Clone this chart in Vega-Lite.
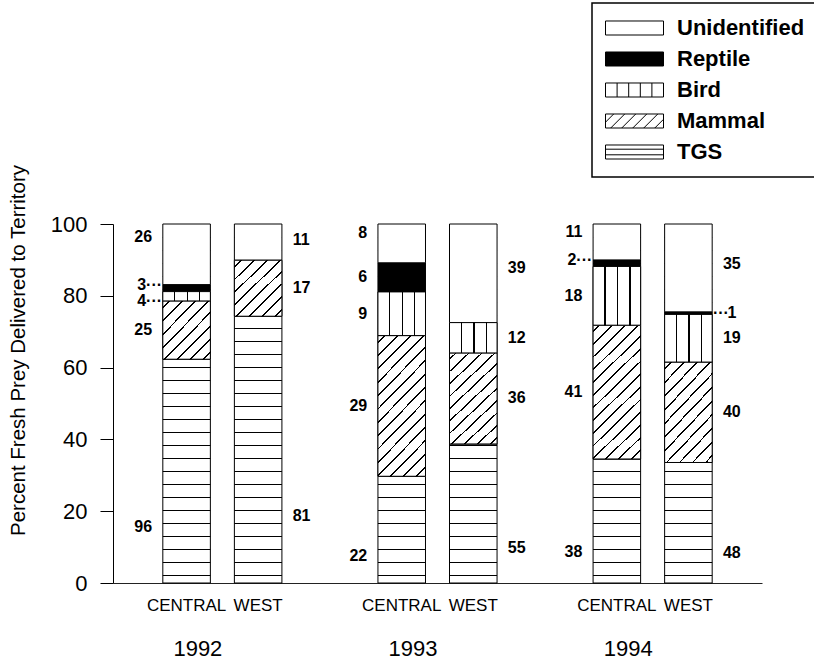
{
"$schema":"https://vega.github.io/schema/vega-lite/v6.json",
"width":649,"height":359,
"autosize":{"type":"none"},
"padding":{"left":113,"top":224,"right":52,"bottom":83},
"config":{"font":"Liberation Sans","view":{"stroke":null}},
"data":{"values":[
{"year":"1992","region":"CENTRAL","category":"TGS","n":96},
{"year":"1992","region":"CENTRAL","category":"Mammal","n":25},
{"year":"1992","region":"CENTRAL","category":"Bird","n":4},
{"year":"1992","region":"CENTRAL","category":"Reptile","n":3},
{"year":"1992","region":"CENTRAL","category":"Unidentified","n":26},
{"year":"1992","region":"WEST","category":"TGS","n":81},
{"year":"1992","region":"WEST","category":"Mammal","n":17},
{"year":"1992","region":"WEST","category":"Unidentified","n":11},
{"year":"1993","region":"CENTRAL","category":"TGS","n":22},
{"year":"1993","region":"CENTRAL","category":"Mammal","n":29},
{"year":"1993","region":"CENTRAL","category":"Bird","n":9},
{"year":"1993","region":"CENTRAL","category":"Reptile","n":6},
{"year":"1993","region":"CENTRAL","category":"Unidentified","n":8},
{"year":"1993","region":"WEST","category":"TGS","n":55},
{"year":"1993","region":"WEST","category":"Mammal","n":36},
{"year":"1993","region":"WEST","category":"Bird","n":12},
{"year":"1993","region":"WEST","category":"Unidentified","n":39},
{"year":"1994","region":"CENTRAL","category":"TGS","n":38},
{"year":"1994","region":"CENTRAL","category":"Mammal","n":41},
{"year":"1994","region":"CENTRAL","category":"Bird","n":18},
{"year":"1994","region":"CENTRAL","category":"Reptile","n":2},
{"year":"1994","region":"CENTRAL","category":"Unidentified","n":11},
{"year":"1994","region":"WEST","category":"TGS","n":48},
{"year":"1994","region":"WEST","category":"Mammal","n":40},
{"year":"1994","region":"WEST","category":"Bird","n":19},
{"year":"1994","region":"WEST","category":"Reptile","n":1},
{"year":"1994","region":"WEST","category":"Unidentified","n":35}
]},
"transform":[{"stack":"n","groupby":["year","region"],"offset":"normalize","as":["y0","y1"]}],
"layer":[
{"transform":[{"filter":"datum.category === 'TGS'"}],
 "mark":{"type":"bar","strokeWidth":0,"fill":{"gradient":"linear","x1":0,"y1":0,"x2":0,"y2":1,"stops":[
{"offset":0,"color":"#fff"},
{"offset":0.03621,"color":"#fff"},{"offset":0.03621,"color":"#000"},{"offset":0.03900,"color":"#000"},{"offset":0.03900,"color":"#fff"},
{"offset":0.07242,"color":"#fff"},{"offset":0.07242,"color":"#000"},{"offset":0.07521,"color":"#000"},{"offset":0.07521,"color":"#fff"},
{"offset":0.10864,"color":"#fff"},{"offset":0.10864,"color":"#000"},{"offset":0.11142,"color":"#000"},{"offset":0.11142,"color":"#fff"},
{"offset":0.14485,"color":"#fff"},{"offset":0.14485,"color":"#000"},{"offset":0.14763,"color":"#000"},{"offset":0.14763,"color":"#fff"},
{"offset":0.18106,"color":"#fff"},{"offset":0.18106,"color":"#000"},{"offset":0.18384,"color":"#000"},{"offset":0.18384,"color":"#fff"},
{"offset":0.21727,"color":"#fff"},{"offset":0.21727,"color":"#000"},{"offset":0.22006,"color":"#000"},{"offset":0.22006,"color":"#fff"},
{"offset":0.25348,"color":"#fff"},{"offset":0.25348,"color":"#000"},{"offset":0.25627,"color":"#000"},{"offset":0.25627,"color":"#fff"},
{"offset":0.28969,"color":"#fff"},{"offset":0.28969,"color":"#000"},{"offset":0.29248,"color":"#000"},{"offset":0.29248,"color":"#fff"},
{"offset":0.32591,"color":"#fff"},{"offset":0.32591,"color":"#000"},{"offset":0.32869,"color":"#000"},{"offset":0.32869,"color":"#fff"},
{"offset":0.36212,"color":"#fff"},{"offset":0.36212,"color":"#000"},{"offset":0.36490,"color":"#000"},{"offset":0.36490,"color":"#fff"},
{"offset":0.39833,"color":"#fff"},{"offset":0.39833,"color":"#000"},{"offset":0.40111,"color":"#000"},{"offset":0.40111,"color":"#fff"},
{"offset":0.43454,"color":"#fff"},{"offset":0.43454,"color":"#000"},{"offset":0.43733,"color":"#000"},{"offset":0.43733,"color":"#fff"},
{"offset":0.47075,"color":"#fff"},{"offset":0.47075,"color":"#000"},{"offset":0.47354,"color":"#000"},{"offset":0.47354,"color":"#fff"},
{"offset":0.50696,"color":"#fff"},{"offset":0.50696,"color":"#000"},{"offset":0.50975,"color":"#000"},{"offset":0.50975,"color":"#fff"},
{"offset":0.54318,"color":"#fff"},{"offset":0.54318,"color":"#000"},{"offset":0.54596,"color":"#000"},{"offset":0.54596,"color":"#fff"},
{"offset":0.57939,"color":"#fff"},{"offset":0.57939,"color":"#000"},{"offset":0.58217,"color":"#000"},{"offset":0.58217,"color":"#fff"},
{"offset":0.61560,"color":"#fff"},{"offset":0.61560,"color":"#000"},{"offset":0.61838,"color":"#000"},{"offset":0.61838,"color":"#fff"},
{"offset":0.65181,"color":"#fff"},{"offset":0.65181,"color":"#000"},{"offset":0.65460,"color":"#000"},{"offset":0.65460,"color":"#fff"},
{"offset":0.68802,"color":"#fff"},{"offset":0.68802,"color":"#000"},{"offset":0.69081,"color":"#000"},{"offset":0.69081,"color":"#fff"},
{"offset":0.72423,"color":"#fff"},{"offset":0.72423,"color":"#000"},{"offset":0.72702,"color":"#000"},{"offset":0.72702,"color":"#fff"},
{"offset":0.76045,"color":"#fff"},{"offset":0.76045,"color":"#000"},{"offset":0.76323,"color":"#000"},{"offset":0.76323,"color":"#fff"},
{"offset":0.79666,"color":"#fff"},{"offset":0.79666,"color":"#000"},{"offset":0.79944,"color":"#000"},{"offset":0.79944,"color":"#fff"},
{"offset":0.83287,"color":"#fff"},{"offset":0.83287,"color":"#000"},{"offset":0.83565,"color":"#000"},{"offset":0.83565,"color":"#fff"},
{"offset":0.86908,"color":"#fff"},{"offset":0.86908,"color":"#000"},{"offset":0.87187,"color":"#000"},{"offset":0.87187,"color":"#fff"},
{"offset":0.90529,"color":"#fff"},{"offset":0.90529,"color":"#000"},{"offset":0.90808,"color":"#000"},{"offset":0.90808,"color":"#fff"},
{"offset":0.94150,"color":"#fff"},{"offset":0.94150,"color":"#000"},{"offset":0.94429,"color":"#000"},{"offset":0.94429,"color":"#fff"},
{"offset":0.97772,"color":"#fff"},{"offset":0.97772,"color":"#000"},{"offset":0.98050,"color":"#000"},{"offset":0.98050,"color":"#fff"},
{"offset":1,"color":"#fff"}]}},
 "encoding":{
  "x":{"field":"year","type":"nominal","title":null},
  "xOffset":{"field":"region","type":"nominal"},
  "y":{"datum":0,"type":"quantitative","title":"Percent Fresh Prey Delivered to Territory"},
  "y2":{"datum":1}}},
{"mark":{"type":"bar","stroke":"black","strokeWidth":1},
 "encoding":{
  "x":{"field":"year","type":"nominal","title":null,
   "scale":{"paddingInner":0,"paddingOuter":0.0084},
   "axis":{"labelFontSize":22,"labelPadding":65,"ticks":false,"tickSize":0,"domain":true,"domainColor":"#222","domainWidth":1,"labelAngle":0,"labelColor":"black"}},
  "xOffset":{"field":"region","type":"nominal","scale":{"paddingInner":0.3357,"paddingOuter":0.671}},
  "y":{"field":"y0","type":"quantitative","title":"Percent Fresh Prey Delivered to Territory",
   "scale":{"domain":[0,1],"nice":false},
   "axis":{"values":[0,0.2,0.4,0.6,0.8,1],"labelExpr":"format(datum.value*100,'.0f')","tickSize":13,"tickColor":"black","domainColor":"black","labelFontSize":22,"labelPadding":13,"labelColor":"black","grid":false,"titleFontSize":20.5,"titleFontWeight":"normal","titleColor":"black","titleX":-89,"titleY":126,"titleAngle":-90,"titleBaseline":"alphabetic"}},
  "y2":{"field":"y1"},
  "fill":{"field":"category","type":"nominal",
   "scale":{"domain":["Unidentified","Reptile","Bird","Mammal","TGS"],
    "range":["#ffffff","#000000","#ffffff","#ffffff","transparent"]},
   "legend":{"title":null,"orient":"none","legendX":479,"legendY":-221,"direction":"vertical","padding":13,
    "strokeColor":"black","fillColor":"white",
    "symbolType":"M-1,-0.2414H1V0.2414H-1Z","symbolSize":3364,"symbolStrokeColor":"black","symbolStrokeWidth":1,"symbolOpacity":1,
    "labelFontSize":22,"labelFontWeight":"bold","labelColor":"black","labelOffset":13,"labelLimit":400,
    "labelExpr":"datum.label + '      '",
    "clipHeight":24,"rowPadding":7,
    "encode":{"legend":{"update":{"strokeWidth":{"value":1.5}}},
     "symbols":{"update":{"stroke":{"value":"black"},"strokeWidth":{"value":1},
      "fill":[{"test":"datum.value === 'Reptile'","value":"#000"},{"value":"#fff"}],
      "shape":[
       {"test":"datum.value === 'Bird'","value":"M-1,-0.2414H1V0.2414H-1Z M-0.6,-0.2414V0.2414 M-0.2,-0.2414V0.2414 M0.2,-0.2414V0.2414 M0.6,-0.2414V0.2414"},
       {"test":"datum.value === 'Mammal'","value":"M-1,-0.2414H1V0.2414H-1Z M-1,0.0414L-0.7172,-0.2414 M-0.82,0.2414L-0.3372,-0.2414 M-0.44,0.2414L0.0428,-0.2414 M-0.06,0.2414L0.4228,-0.2414 M0.32,0.2414L0.8028,-0.2414 M0.7,0.2414L1,-0.0586"},
       {"test":"datum.value === 'TGS'","value":"M-1,-0.2414H1V0.2414H-1Z M-1,-0.0966H1 M-1,0.0966H1"},
       {"value":"M-1,-0.2414H1V0.2414H-1Z"}]}}}}}}},
{"transform":[{"filter":"datum.category === 'Mammal' && datum.year === '1992'"}],
 "mark":{"type":"bar","stroke":"black","strokeWidth":1,"fill":{"gradient":"linear","x1":0,"y1":0,"x2":0.9016,"y2":1.0820,"stops":[
{"offset":0,"color":"#fff"},
{"offset":0.0554,"color":"#fff"},{"offset":0.0554,"color":"#000"},{"offset":0.0734,"color":"#000"},{"offset":0.0734,"color":"#fff"},
{"offset":0.1798,"color":"#fff"},{"offset":0.1798,"color":"#000"},{"offset":0.1978,"color":"#000"},{"offset":0.1978,"color":"#fff"},
{"offset":0.3042,"color":"#fff"},{"offset":0.3042,"color":"#000"},{"offset":0.3222,"color":"#000"},{"offset":0.3222,"color":"#fff"},
{"offset":0.4286,"color":"#fff"},{"offset":0.4286,"color":"#000"},{"offset":0.4466,"color":"#000"},{"offset":0.4466,"color":"#fff"},
{"offset":0.5530,"color":"#fff"},{"offset":0.5530,"color":"#000"},{"offset":0.5710,"color":"#000"},{"offset":0.5710,"color":"#fff"},
{"offset":0.6774,"color":"#fff"},{"offset":0.6774,"color":"#000"},{"offset":0.6954,"color":"#000"},{"offset":0.6954,"color":"#fff"},
{"offset":0.8018,"color":"#fff"},{"offset":0.8018,"color":"#000"},{"offset":0.8198,"color":"#000"},{"offset":0.8198,"color":"#fff"},
{"offset":0.9262,"color":"#fff"},{"offset":0.9262,"color":"#000"},{"offset":0.9442,"color":"#000"},{"offset":0.9442,"color":"#fff"},
{"offset":1,"color":"#fff"}]}},
 "encoding":{"x":{"field":"year","type":"nominal","title":null},"xOffset":{"field":"region","type":"nominal"},
  "y":{"field":"y0","type":"quantitative","title":"Percent Fresh Prey Delivered to Territory"},"y2":{"field":"y1"}}},
{"transform":[{"filter":"datum.category === 'Mammal' && datum.region === 'CENTRAL' && datum.year !== '1992'"}],
 "mark":{"type":"bar","stroke":"black","strokeWidth":1,"fill":{"gradient":"linear","x1":0,"y1":0,"x2":0.4168,"y2":1.2022,"stops":[
{"offset":0,"color":"#fff"},
{"offset":0.0305,"color":"#fff"},{"offset":0.0305,"color":"#000"},{"offset":0.0405,"color":"#000"},{"offset":0.0405,"color":"#fff"},
{"offset":0.1009,"color":"#fff"},{"offset":0.1009,"color":"#000"},{"offset":0.1109,"color":"#000"},{"offset":0.1109,"color":"#fff"},
{"offset":0.1714,"color":"#fff"},{"offset":0.1714,"color":"#000"},{"offset":0.1814,"color":"#000"},{"offset":0.1814,"color":"#fff"},
{"offset":0.2418,"color":"#fff"},{"offset":0.2418,"color":"#000"},{"offset":0.2518,"color":"#000"},{"offset":0.2518,"color":"#fff"},
{"offset":0.3123,"color":"#fff"},{"offset":0.3123,"color":"#000"},{"offset":0.3223,"color":"#000"},{"offset":0.3223,"color":"#fff"},
{"offset":0.3828,"color":"#fff"},{"offset":0.3828,"color":"#000"},{"offset":0.3928,"color":"#000"},{"offset":0.3928,"color":"#fff"},
{"offset":0.4532,"color":"#fff"},{"offset":0.4532,"color":"#000"},{"offset":0.4632,"color":"#000"},{"offset":0.4632,"color":"#fff"},
{"offset":0.5237,"color":"#fff"},{"offset":0.5237,"color":"#000"},{"offset":0.5337,"color":"#000"},{"offset":0.5337,"color":"#fff"},
{"offset":0.5941,"color":"#fff"},{"offset":0.5941,"color":"#000"},{"offset":0.6041,"color":"#000"},{"offset":0.6041,"color":"#fff"},
{"offset":0.6646,"color":"#fff"},{"offset":0.6646,"color":"#000"},{"offset":0.6746,"color":"#000"},{"offset":0.6746,"color":"#fff"},
{"offset":0.7351,"color":"#fff"},{"offset":0.7351,"color":"#000"},{"offset":0.7451,"color":"#000"},{"offset":0.7451,"color":"#fff"},
{"offset":0.8055,"color":"#fff"},{"offset":0.8055,"color":"#000"},{"offset":0.8155,"color":"#000"},{"offset":0.8155,"color":"#fff"},
{"offset":0.8760,"color":"#fff"},{"offset":0.8760,"color":"#000"},{"offset":0.8860,"color":"#000"},{"offset":0.8860,"color":"#fff"},
{"offset":0.9464,"color":"#fff"},{"offset":0.9464,"color":"#000"},{"offset":0.9564,"color":"#000"},{"offset":0.9564,"color":"#fff"},
{"offset":1,"color":"#fff"}]}},
 "encoding":{"x":{"field":"year","type":"nominal","title":null},"xOffset":{"field":"region","type":"nominal"},
  "y":{"field":"y0","type":"quantitative","title":"Percent Fresh Prey Delivered to Territory"},"y2":{"field":"y1"}}},
{"transform":[{"filter":"datum.category === 'Mammal' && datum.region === 'WEST' && datum.year !== '1992'"}],
 "mark":{"type":"bar","stroke":"black","strokeWidth":1,"fill":{"gradient":"linear","x1":0,"y1":0,"x2":0.5965,"y2":1.2005,"stops":[
{"offset":0,"color":"#fff"},
{"offset":0.0395,"color":"#fff"},{"offset":0.0395,"color":"#000"},{"offset":0.0523,"color":"#000"},{"offset":0.0523,"color":"#fff"},
{"offset":0.1303,"color":"#fff"},{"offset":0.1303,"color":"#000"},{"offset":0.1431,"color":"#000"},{"offset":0.1431,"color":"#fff"},
{"offset":0.2212,"color":"#fff"},{"offset":0.2212,"color":"#000"},{"offset":0.2340,"color":"#000"},{"offset":0.2340,"color":"#fff"},
{"offset":0.3120,"color":"#fff"},{"offset":0.3120,"color":"#000"},{"offset":0.3248,"color":"#000"},{"offset":0.3248,"color":"#fff"},
{"offset":0.4029,"color":"#fff"},{"offset":0.4029,"color":"#000"},{"offset":0.4157,"color":"#000"},{"offset":0.4157,"color":"#fff"},
{"offset":0.4937,"color":"#fff"},{"offset":0.4937,"color":"#000"},{"offset":0.5065,"color":"#000"},{"offset":0.5065,"color":"#fff"},
{"offset":0.5846,"color":"#fff"},{"offset":0.5846,"color":"#000"},{"offset":0.5974,"color":"#000"},{"offset":0.5974,"color":"#fff"},
{"offset":0.6754,"color":"#fff"},{"offset":0.6754,"color":"#000"},{"offset":0.6882,"color":"#000"},{"offset":0.6882,"color":"#fff"},
{"offset":0.7663,"color":"#fff"},{"offset":0.7663,"color":"#000"},{"offset":0.7791,"color":"#000"},{"offset":0.7791,"color":"#fff"},
{"offset":0.8571,"color":"#fff"},{"offset":0.8571,"color":"#000"},{"offset":0.8699,"color":"#000"},{"offset":0.8699,"color":"#fff"},
{"offset":0.9480,"color":"#fff"},{"offset":0.9480,"color":"#000"},{"offset":0.9608,"color":"#000"},{"offset":0.9608,"color":"#fff"},
{"offset":1,"color":"#fff"}]}},
 "encoding":{"x":{"field":"year","type":"nominal","title":null},"xOffset":{"field":"region","type":"nominal"},
  "y":{"field":"y0","type":"quantitative","title":"Percent Fresh Prey Delivered to Territory"},"y2":{"field":"y1"}}},
{"transform":[{"filter":"datum.category === 'Bird'"}],
 "mark":{"type":"bar","stroke":"black","strokeWidth":1,"fill":{"gradient":"linear","x1":0,"y1":0,"x2":1,"y2":0,"stops":[
{"offset":0,"color":"#fff"},
{"offset":0.237,"color":"#fff"},{"offset":0.237,"color":"#000"},{"offset":0.263,"color":"#000"},{"offset":0.263,"color":"#fff"},
{"offset":0.500,"color":"#fff"},{"offset":0.500,"color":"#000"},{"offset":0.526,"color":"#000"},{"offset":0.526,"color":"#fff"},
{"offset":0.763,"color":"#fff"},{"offset":0.763,"color":"#000"},{"offset":0.789,"color":"#000"},{"offset":0.789,"color":"#fff"},
{"offset":1,"color":"#fff"}]}},
 "encoding":{"x":{"field":"year","type":"nominal","title":null},"xOffset":{"field":"region","type":"nominal"},
  "y":{"field":"y0","type":"quantitative","title":"Percent Fresh Prey Delivered to Territory"},"y2":{"field":"y1"}}},
{"transform":[{"filter":"datum.region === 'CENTRAL'"}],
 "mark":{"type":"text","fontSize":16,"fontWeight":"bold","baseline":"middle","align":"right","dx":-34.5},
 "encoding":{"x":{"field":"year","type":"nominal","title":null},"xOffset":{"field":"region","type":"nominal"},
  "y":{"field":"n","type":"quantitative","stack":"normalize","bandPosition":0.5,"title":"Percent Fresh Prey Delivered to Territory"},
  "detail":{"field":"category"},"order":{"field":"y0","type":"quantitative"},
  "text":{"condition":{"test":"datum.category === 'Mammal' || (datum.category === 'Bird' && datum.year !== '1992') || (datum.category === 'Reptile' && datum.year === '1993')","field":"n","type":"quantitative"},"value":""}}},
{"transform":[{"filter":"datum.region === 'CENTRAL'"}],
 "mark":{"type":"text","fontSize":16,"fontWeight":"bold","baseline":"middle","align":"right","dx":-34.5},
 "encoding":{"x":{"field":"year","type":"nominal","title":null},"xOffset":{"field":"region","type":"nominal"},
  "y":{"field":"n","type":"quantitative","stack":"normalize","bandPosition":0.25,"title":"Percent Fresh Prey Delivered to Territory"},
  "detail":{"field":"category"},"order":{"field":"y0","type":"quantitative"},
  "text":{"condition":{"test":"datum.category === 'TGS'","field":"n","type":"quantitative"},"value":""}}},
{"transform":[{"filter":"datum.region === 'CENTRAL'"}],
 "mark":{"type":"text","fontSize":16,"fontWeight":"bold","baseline":"middle","align":"right","dx":-34.5},
 "encoding":{"x":{"field":"year","type":"nominal","title":null},"xOffset":{"field":"region","type":"nominal"},
  "y":{"field":"n","type":"quantitative","stack":"normalize","bandPosition":0.78,"title":"Percent Fresh Prey Delivered to Territory"},
  "detail":{"field":"category"},"order":{"field":"y0","type":"quantitative"},
  "text":{"condition":{"test":"datum.category === 'Unidentified'","field":"n","type":"quantitative"},"value":""}}},
{"transform":[{"filter":"datum.region === 'CENTRAL'"}],
 "mark":{"type":"text","fontSize":16,"fontWeight":"bold","baseline":"middle","align":"right","dx":-40.5},
 "encoding":{"x":{"field":"year","type":"nominal","title":null},"xOffset":{"field":"region","type":"nominal"},
  "y":{"field":"n","type":"quantitative","stack":"normalize","bandPosition":1,"title":"Percent Fresh Prey Delivered to Territory"},
  "detail":{"field":"category"},"order":{"field":"y0","type":"quantitative"},
  "text":{"condition":{"test":"datum.category === 'Reptile' && datum.year !== '1993'","field":"n","type":"quantitative"},"value":""}}},
{"transform":[{"filter":"datum.region === 'CENTRAL'"}],
 "mark":{"type":"text","fontSize":16,"fontWeight":"bold","baseline":"middle","align":"right","dx":-24.5},
 "encoding":{"x":{"field":"year","type":"nominal","title":null},"xOffset":{"field":"region","type":"nominal"},
  "y":{"field":"n","type":"quantitative","stack":"normalize","bandPosition":1,"title":"Percent Fresh Prey Delivered to Territory"},
  "detail":{"field":"category"},"order":{"field":"y0","type":"quantitative"},
  "text":{"condition":{"test":"datum.category === 'Reptile' && datum.year !== '1993'","value":"···"},"value":""}}},
{"transform":[{"filter":"datum.region === 'CENTRAL'"}],
 "mark":{"type":"text","fontSize":16,"fontWeight":"bold","baseline":"middle","align":"right","dx":-40.5},
 "encoding":{"x":{"field":"year","type":"nominal","title":null},"xOffset":{"field":"region","type":"nominal"},
  "y":{"field":"n","type":"quantitative","stack":"normalize","bandPosition":0,"title":"Percent Fresh Prey Delivered to Territory"},
  "detail":{"field":"category"},"order":{"field":"y0","type":"quantitative"},
  "text":{"condition":{"test":"datum.category === 'Bird' && datum.year === '1992'","field":"n","type":"quantitative"},"value":""}}},
{"transform":[{"filter":"datum.region === 'CENTRAL'"}],
 "mark":{"type":"text","fontSize":16,"fontWeight":"bold","baseline":"middle","align":"right","dx":-24.5},
 "encoding":{"x":{"field":"year","type":"nominal","title":null},"xOffset":{"field":"region","type":"nominal"},
  "y":{"field":"n","type":"quantitative","stack":"normalize","bandPosition":0,"title":"Percent Fresh Prey Delivered to Territory"},
  "detail":{"field":"category"},"order":{"field":"y0","type":"quantitative"},
  "text":{"condition":{"test":"datum.category === 'Bird' && datum.year === '1992'","value":"···"},"value":""}}},
{"transform":[{"filter":"datum.region === 'WEST'"}],
 "mark":{"type":"text","fontSize":16,"fontWeight":"bold","baseline":"middle","align":"left","dx":34.5},
 "encoding":{"x":{"field":"year","type":"nominal","title":null},"xOffset":{"field":"region","type":"nominal"},
  "y":{"field":"n","type":"quantitative","stack":"normalize","bandPosition":0.5,"title":"Percent Fresh Prey Delivered to Territory"},
  "detail":{"field":"category"},"order":{"field":"y0","type":"quantitative"},
  "text":{"condition":{"test":"datum.category === 'Mammal' || datum.category === 'Bird'","field":"n","type":"quantitative"},"value":""}}},
{"transform":[{"filter":"datum.region === 'WEST'"}],
 "mark":{"type":"text","fontSize":16,"fontWeight":"bold","baseline":"middle","align":"left","dx":34.5},
 "encoding":{"x":{"field":"year","type":"nominal","title":null},"xOffset":{"field":"region","type":"nominal"},
  "y":{"field":"n","type":"quantitative","stack":"normalize","bandPosition":0.25,"title":"Percent Fresh Prey Delivered to Territory"},
  "detail":{"field":"category"},"order":{"field":"y0","type":"quantitative"},
  "text":{"condition":{"test":"datum.category === 'TGS'","field":"n","type":"quantitative"},"value":""}}},
{"transform":[{"filter":"datum.region === 'WEST'"}],
 "mark":{"type":"text","fontSize":16,"fontWeight":"bold","baseline":"middle","align":"left","dx":34.5},
 "encoding":{"x":{"field":"year","type":"nominal","title":null},"xOffset":{"field":"region","type":"nominal"},
  "y":{"field":"n","type":"quantitative","stack":"normalize","bandPosition":0.55,"title":"Percent Fresh Prey Delivered to Territory"},
  "detail":{"field":"category"},"order":{"field":"y0","type":"quantitative"},
  "text":{"condition":{"test":"datum.category === 'Unidentified'","field":"n","type":"quantitative"},"value":""}}},
{"transform":[{"filter":"datum.region === 'WEST'"}],
 "mark":{"type":"text","fontSize":16,"fontWeight":"bold","baseline":"middle","align":"left","dx":39},
 "encoding":{"x":{"field":"year","type":"nominal","title":null},"xOffset":{"field":"region","type":"nominal"},
  "y":{"field":"n","type":"quantitative","stack":"normalize","bandPosition":0.5,"title":"Percent Fresh Prey Delivered to Territory"},
  "detail":{"field":"category"},"order":{"field":"y0","type":"quantitative"},
  "text":{"condition":{"test":"datum.category === 'Reptile'","field":"n","type":"quantitative"},"value":""}}},
{"transform":[{"filter":"datum.region === 'WEST'"}],
 "mark":{"type":"text","fontSize":16,"fontWeight":"bold","baseline":"middle","align":"left","dx":24.5},
 "encoding":{"x":{"field":"year","type":"nominal","title":null},"xOffset":{"field":"region","type":"nominal"},
  "y":{"field":"n","type":"quantitative","stack":"normalize","bandPosition":0.5,"title":"Percent Fresh Prey Delivered to Territory"},
  "detail":{"field":"category"},"order":{"field":"y0","type":"quantitative"},
  "text":{"condition":{"test":"datum.category === 'Reptile'","value":"···"},"value":""}}},
{"transform":[{"filter":"datum.category === 'TGS'"}],
 "mark":{"type":"text","fontSize":17,"baseline":"top","align":"center","dy":15},
 "encoding":{"x":{"field":"year","type":"nominal","title":null},"xOffset":{"field":"region","type":"nominal"},
  "y":{"datum":0,"type":"quantitative","title":"Percent Fresh Prey Delivered to Territory"},
  "text":{"field":"region","type":"nominal"}}}
]
}
